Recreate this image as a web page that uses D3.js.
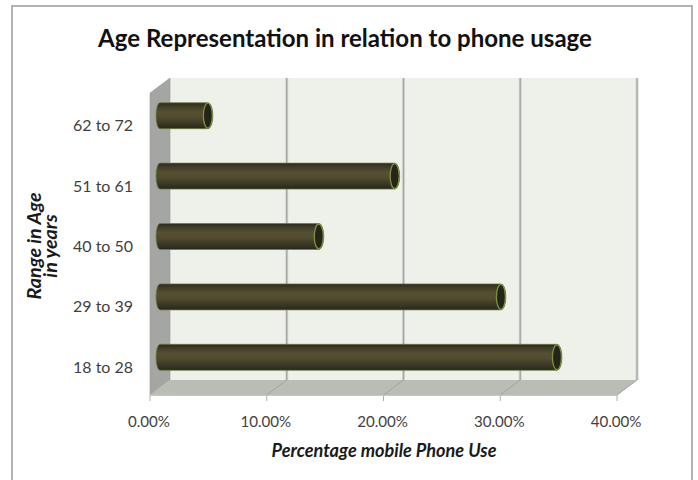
<!DOCTYPE html>
<html><head><meta charset="utf-8">
<script src="https://cdn.jsdelivr.net/npm/d3@7"></script>
<style>html,body{margin:0;padding:0;background:#fff;}svg{display:block;}</style>
</head><body>
<svg id="chart" width="698" height="480"></svg>
<script>
const categories = ["18 to 28", "29 to 39", "40 to 50", "51 to 61", "62 to 72"];
const values = [34.0, 29.2, 13.6, 20.1, 4.1];
const xTicks = [0, 10, 20, 30, 40];
const titleText = "Age Representation in relation to phone usage";
const xTitle = "Percentage mobile Phone Use";
const yTitleLines = ["Range in Age", "in years"];

const svg = d3.select("#chart");
const font = "Lato, 'Open Sans', sans-serif";

// frame
svg.append("rect").attr("x", 12).attr("y", 6).attr("width", 680).attr("height", 490)
  .attr("fill", "#fff").attr("stroke", "#9a9a9a").attr("stroke-width", 1.5);

// front plane geometry
const fx = 150, fy = 93, fw = 467, fh = 302;
const dx = 20, dy = -15;

const x = d3.scaleLinear().domain([0, 40]).range([fx, fx + fw]);
const y = d3.scaleBand().domain(categories.slice().reverse()).range([fy, fy + fh]).paddingInner(0.57).paddingOuter(0.285);

const defs = svg.append("defs");
const g1 = defs.append("linearGradient").attr("id", "cyl").attr("x1", 0).attr("y1", 0).attr("x2", 0).attr("y2", 1);
[[0, "#2c2a1c"], [0.14, "#403c28"], [0.35, "#555031"], [0.55, "#514c30"], [0.8, "#3b3824"], [1, "#28261a"]]
  .forEach(([o, c]) => g1.append("stop").attr("offset", o).attr("stop-color", c));

const poly = pts => pts.map(p => p.join(",")).join(" ");

// back wall
svg.append("polygon").attr("points", poly([[fx + dx, fy + dy], [fx + fw + dx, fy + dy], [fx + fw + dx, fy + fh + dy], [fx + dx, fy + fh + dy]]))
  .attr("fill", "#eef0ea");
// side wall
svg.append("polygon").attr("points", poly([[fx, fy], [fx + dx, fy + dy], [fx + dx, fy + fh + dy], [fx, fy + fh]]))
  .attr("fill", "#a4a6a3").attr("stroke", "#9a9c99").attr("stroke-width", 0.6);
// floor
svg.append("polygon").attr("points", poly([[fx, fy + fh], [fx + dx, fy + fh + dy], [fx + fw + dx, fy + fh + dy], [fx + fw, fy + fh]]))
  .attr("fill", "#babcb6");

// gridlines on back wall and floor
xTicks.forEach(t => {
  if (t > 0) {
    svg.append("line").attr("x1", x(t) + dx).attr("x2", x(t) + dx).attr("y1", fy + dy).attr("y2", fy + fh + dy)
      .attr("stroke", "#d4d6d2").attr("stroke-width", 3);
    svg.append("line").attr("x1", x(t) + dx).attr("x2", x(t) + dx).attr("y1", fy + dy).attr("y2", fy + fh + dy)
      .attr("stroke", "#a6a7a4").attr("stroke-width", 1.3);
    svg.append("line").attr("x1", x(t) + dx).attr("x2", x(t)).attr("y1", fy + fh + dy).attr("y2", fy + fh)
      .attr("stroke", "#a3a5a0").attr("stroke-width", 1);
  }
  svg.append("line").attr("x1", x(t)).attr("x2", x(t)).attr("y1", fy + fh).attr("y2", fy + fh + 6)
    .attr("stroke", "#b0b0b0").attr("stroke-width", 1);
});
svg.append("line").attr("x1", fx).attr("x2", fx + fw).attr("y1", fy + fh + 0.5).attr("y2", fy + fh + 0.5)
  .attr("stroke", "#c8c8c8").attr("stroke-width", 1);

// bars (cylinders) at mid depth
const mx = dx / 2, my = dy / 2;
const bars = svg.append("g").selectAll("g").data(categories.map((c, i) => ({ c, v: values[i] }))).join("g");
bars.each(function (d) {
  const g = d3.select(this);
  const x0 = x(0) + mx, x1 = x(d.v) + mx;
  const top = y(d.c) + my, h = y.bandwidth(), cy = top + h / 2, ry = h / 2;
  const rxL = 4, rxR = 5;
  g.append("path")
    .attr("d", `M${x0},${top} L${x1},${top} A${rxR},${ry} 0 0 1 ${x1},${top + h} L${x0},${top + h} A${rxL},${ry} 0 0 1 ${x0},${top} Z`)
    .attr("fill", "url(#cyl)").attr("stroke", "#6d7c38").attr("stroke-width", 0.9).attr("stroke-opacity", 0.8);
  g.append("ellipse").attr("cx", x1).attr("cy", cy).attr("rx", rxR - 0.5).attr("ry", ry - 0.5)
    .attr("fill", "#25241a").attr("stroke", "#7e9140").attr("stroke-width", 1.3);
});

function fitSize(sample, fs, w, extra) {
  const tmp = svg.append("text").attr("font-family", font).attr("font-size", fs).text(sample);
  if (extra) extra(tmp);
  const len = tmp.node().getComputedTextLength();
  tmp.remove();
  return fs * w / len;
}

// category labels
const catFs = fitSize("62 to 72", 14, 60);
svg.append("g").selectAll("text").data(categories).join("text")
  .attr("x", 133).attr("y", d => y(d) + y.bandwidth() / 2 + 4)
  .attr("text-anchor", "end").attr("dominant-baseline", "middle")
  .attr("font-family", font).attr("font-size", catFs).attr("fill", "#3f3f3f").text(d => d);

// x tick labels
const tickFs = fitSize("0.00%", 14, 42);
svg.append("g").selectAll("text").data(xTicks).join("text")
  .attr("x", d => x(d) - 1).attr("y", 423)
  .attr("text-anchor", "middle").attr("dominant-baseline", "middle")
  .attr("font-family", font).attr("font-size", tickFs).attr("fill", "#3f3f3f").text(d => d.toFixed(2) + "%");

function fit(sel, w) {
  const n = sel.node();
  const cur = n.getComputedTextLength();
  const fs = parseFloat(sel.attr("font-size"));
  sel.attr("font-size", fs * w / cur);
}

// title
const t = svg.append("text").attr("x", 345).attr("y", 41).attr("text-anchor", "middle").attr("dominant-baseline", "middle")
  .attr("font-family", font).attr("font-weight", "bold").attr("font-size", 22).attr("fill", "#111").text(titleText);
fit(t, 494);

// x title
const xt = svg.append("text").attr("x", 384).attr("y", 452).attr("text-anchor", "middle").attr("dominant-baseline", "middle")
  .attr("font-family", font).attr("font-weight", "bold").attr("font-style", "italic").attr("font-size", 14)
  .attr("fill", "#1a1a1a").text(xTitle);
fit(xt, 225);

// y title
const yFs = fitSize(yTitleLines[0], 13, 107, s => s.attr("font-weight", "bold").attr("font-style", "italic"));
const yt = svg.append("g").attr("transform", "translate(44,246) rotate(-90)");
yTitleLines.forEach((s, i) => {
  yt.append("text").attr("x", 0).attr("y", (i - 0.5) * 16).attr("text-anchor", "middle").attr("dominant-baseline", "middle")
    .attr("font-family", font).attr("font-weight", "bold").attr("font-style", "italic").attr("font-size", yFs)
    .attr("fill", "#1a1a1a").text(s);
});
</script>
</body></html>
